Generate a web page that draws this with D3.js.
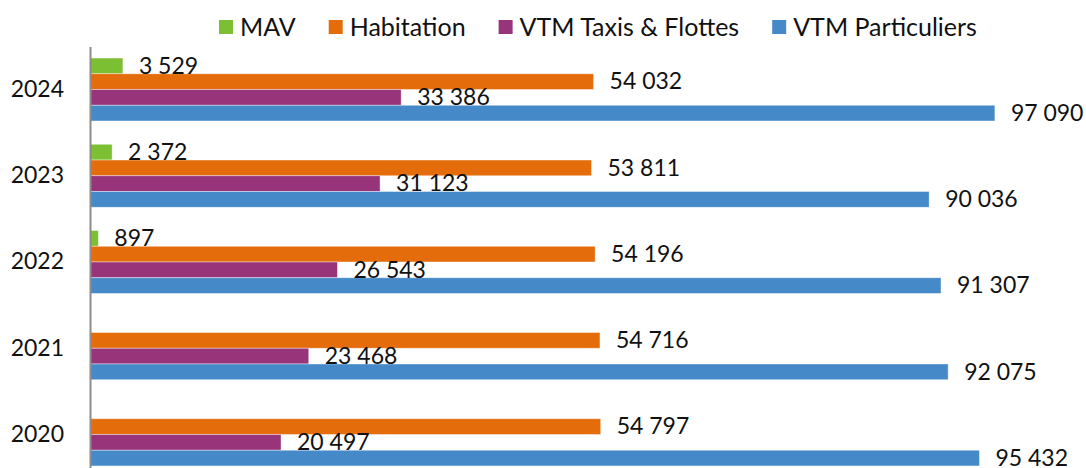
<!DOCTYPE html>
<html>
<head>
<meta charset="utf-8">
<script src="https://cdn.jsdelivr.net/npm/d3@7"></script>
<style>
  body { margin: 0; background: #fff; }
  svg text { font-family: Lato, "Open Sans", sans-serif; fill: #111; }
</style>
</head>
<body>
<div id="chart"></div>
<script>
// Data
const years = ["2024", "2023", "2022", "2021", "2020"];
const seriesNames = ["MAV", "Habitation", "VTM Taxis & Flottes", "VTM Particuliers"];
const seriesColors = ["#7dbf32", "#e46c0a", "#983479", "#4689c8"];
const mav = [3529, 2372, 897, null, null];
const habitation = [54032, 53811, 54196, 54716, 54797];
const taxis = [33386, 31123, 26543, 23468, 20497];
const particuliers = [97090, 90036, 91307, 92075, 95432];

const seriesValues = [mav, habitation, taxis, particuliers];

// Set up dimensions
const width = 1086;
const height = 468;
const fontSize = 23;
const legendFontSize = 25;

const fr = d3.formatLocale({ decimal: ",", thousands: "\u00a0", grouping: [3], currency: ["", " €"] });
const fmt = fr.format(",d");

const svg = d3.select("#chart")
    .append("svg")
    .attr("width", width)
    .attr("height", height);

// Scales
const x = d3.scaleLinear()
    .domain([0, 100000])
    .range([90, 1022]);

const y = d3.scaleBand()
    .domain(years)
    .range([46.4, 477.6])
    .paddingInner(0.27)
    .paddingOuter(0.135);

const ySeries = d3.scaleBand()
    .domain(seriesNames)
    .range([0, y.bandwidth()]);

// Rows for drawing
const rows = [];
years.forEach((yr, i) => {
    seriesNames.forEach((s, j) => {
        const v = seriesValues[j][i];
        if (v != null) rows.push({ year: yr, series: s, color: seriesColors[j], value: v });
    });
});

// Bars
svg.selectAll("rect.bar")
    .data(rows)
    .enter()
    .append("rect")
    .attr("class", "bar")
    .attr("x", x(0))
    .attr("y", d => y(d.year) + ySeries(d.series))
    .attr("width", d => x(d.value) - x(0))
    .attr("height", ySeries.bandwidth())
    .attr("fill", d => d.color)
    .attr("stroke", "#ffffff")
    .attr("stroke-opacity", 0.5)
    .attr("stroke-width", 0.8);

// Value labels
svg.selectAll("text.value")
    .data(rows)
    .enter()
    .append("text")
    .attr("class", "value")
    .attr("x", d => x(d.value) + 16)
    .attr("y", d => y(d.year) + ySeries(d.series) + ySeries.bandwidth() / 2)
    .attr("dy", "0.34em")
    .attr("font-size", fontSize + "px")
    .text(d => fmt(d.value));

// Y axis
const yAxis = svg.append("g")
    .attr("transform", `translate(${x(0)},0)`)
    .call(d3.axisLeft(y).tickSize(0).tickPadding(26));

yAxis.select(".domain")
    .attr("stroke", "#8c8c8c")
    .attr("stroke-width", 2);

yAxis.selectAll("text")
    .attr("font-size", fontSize + "px")
    .attr("font-family", "Lato, 'Open Sans', sans-serif")
    .attr("fill", "#111");

// Legend
const legend = svg.append("g").attr("class", "legend");
let lx = 219;
seriesNames.forEach((s, j) => {
    const item = legend.append("g").attr("transform", `translate(${lx},0)`);
    item.append("rect")
        .attr("x", 0)
        .attr("y", 20)
        .attr("width", 14)
        .attr("height", 14)
        .attr("fill", seriesColors[j]);
    const t = item.append("text")
        .attr("x", 21)
        .attr("y", 27)
        .attr("dy", "0.36em")
        .attr("font-size", legendFontSize + "px")
        .text(s);
    lx += 21 + t.node().getComputedTextLength() + 33;
});
</script>
</body>
</html>
